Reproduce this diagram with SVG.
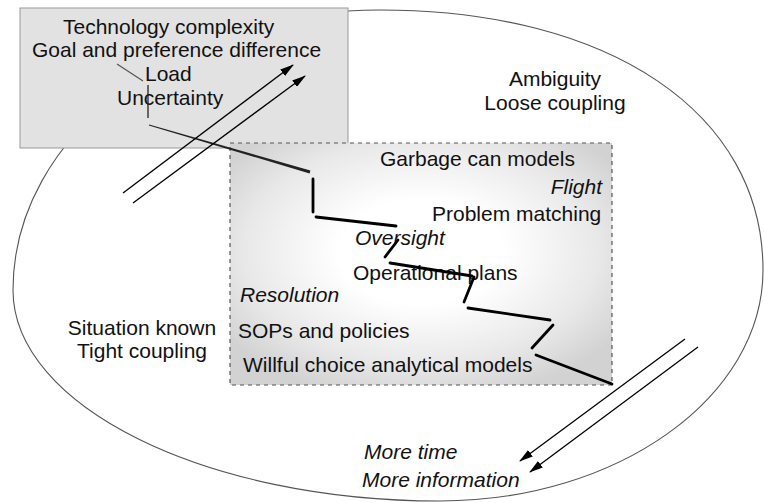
<svg xmlns="http://www.w3.org/2000/svg" width="764" height="503" viewBox="0 0 764 503">
<style>
text{font-family:"Liberation Sans",Arial,sans-serif;font-size:21px;fill:#111}
.it{font-style:italic}
.mid{text-anchor:middle}
.end{text-anchor:end}
.step{stroke:#000;stroke-width:2.8;fill:none;stroke-linecap:round}
.arr{stroke:#000;stroke-width:1.3;fill:none;marker-end:url(#ah)}
.thin{stroke:#555;stroke-width:1.2;fill:none}
</style>
<defs>
<marker id="ah" viewBox="0 0 14 8" refX="13" refY="4" markerWidth="14" markerHeight="8" orient="auto" markerUnits="userSpaceOnUse"><path d="M0,0 L14,4 L0,8 Z" fill="#000"/></marker>
<radialGradient id="inner" cx="0.5" cy="0.45" r="0.62">
<stop offset="0.35" stop-color="#ffffff"/>
<stop offset="0.75" stop-color="#e8e8e8"/>
<stop offset="1" stop-color="#d2d2d2"/>
</radialGradient>
</defs>
<rect width="764" height="503" fill="#fff"/>
<g id="ellipse">
<path d="M380,10 C610,10 763,113 763,270 C763,397 618,501 440,501 C205,501 13,406 13,290 C13,135 178,10 380,10 Z" fill="none" stroke="#555" stroke-width="1.1"/>
</g>
<g id="context-box">
<rect x="20" y="8" width="328" height="140" fill="#e2e2e2" stroke="#999" stroke-width="1"/>
<text x="63" y="34">Technology complexity</text>
<text x="32" y="57">Goal and preference difference</text>
<text x="145" y="81">Load</text>
<text x="117" y="105">Uncertainty</text>
</g>
<g id="inner-box">
<rect x="230" y="143" width="382" height="242" fill="url(#inner)" stroke="#555" stroke-width="1.2" stroke-dasharray="4,4"/>
<text x="380" y="166">Garbage can models</text>
<text x="602" y="194" class="it end">Flight</text>
<text x="432" y="221">Problem matching</text>
<text x="355" y="245" class="it">Oversight</text>
<text x="353" y="280">Operational plans</text>
<text x="240" y="302" class="it">Resolution</text>
<text x="238" y="338">SOPs and policies</text>
<text x="243" y="372">Willful choice analytical models</text>
</g>
<g id="labels">
<text x="555" y="86" class="mid">Ambiguity</text>
<text x="555" y="110" class="mid">Loose coupling</text>
<text x="142" y="335" class="mid">Situation known</text>
<text x="142" y="358" class="mid">Tight coupling</text>
<text x="364" y="459" class="it">More time</text>
<text x="362" y="487" class="it">More information</text>
</g>
<g id="connectors">
<line class="thin" x1="117" y1="64" x2="143" y2="81" stroke="#666"/>
<line x1="148" y1="85" x2="148" y2="118" stroke="#222" stroke-width="1.3"/>
<polygon points="149.1,124.5 148.9,125.5 309.6,173.4 310.4,170.6" fill="#222"/>
<line class="step" x1="313" y1="179" x2="313" y2="212"/>
<line class="step" x1="316" y1="217" x2="396" y2="226"/>
<line class="step" x1="398" y1="240" x2="385" y2="257"/>
<line class="step" x1="390" y1="263" x2="472" y2="276"/>
<line class="step" x1="474" y1="277" x2="464" y2="302"/>
<line class="step" x1="468" y1="308" x2="550" y2="320"/>
<line class="step" x1="553" y1="325" x2="532" y2="348"/>
<line class="step" x1="536" y1="355" x2="612" y2="384"/>
<line class="arr" x1="123" y1="193" x2="293" y2="65"/>
<line class="arr" x1="133" y1="203" x2="305" y2="76"/>
<line class="arr" x1="685" y1="339" x2="520" y2="461"/>
<line class="arr" x1="698" y1="347" x2="530" y2="472"/>
</g>
</svg>
